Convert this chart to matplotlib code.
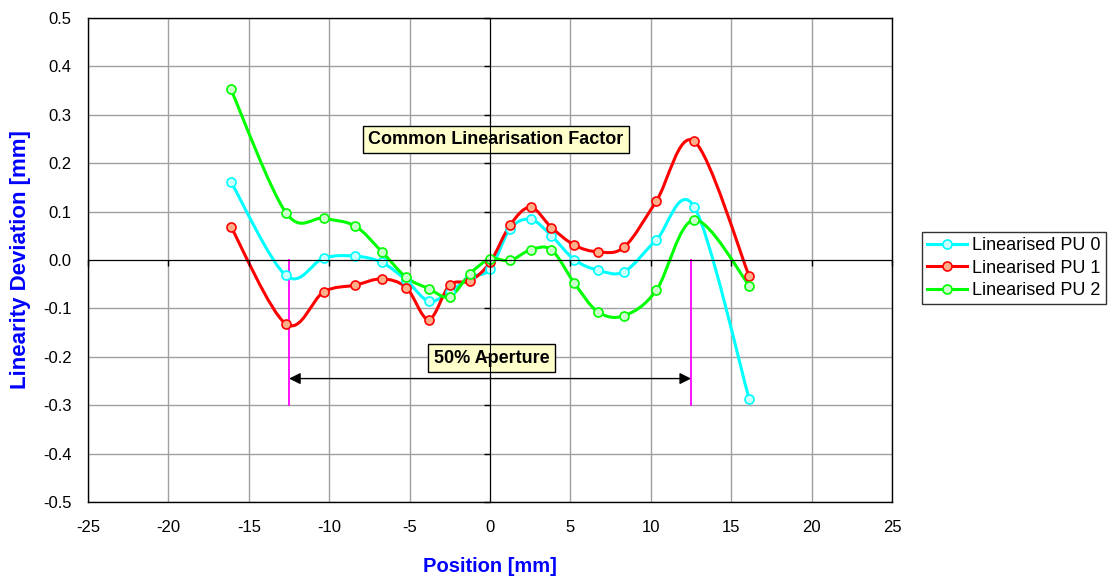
import numpy as np
import matplotlib.pyplot as plt
from matplotlib.path import Path
from matplotlib.patches import PathPatch

plt.rcParams['font.family'] = ['Liberation Sans', 'DejaVu Sans']
plt.rcParams['axes.unicode_minus'] = False

# Measured positions [mm] and linearity deviation [mm] per pick-up
position = [-16.12, -12.7, -10.35, -8.39, -6.73, -5.21, -3.82, -2.52, -1.24, 0.0,
            1.24, 2.52, 3.82, 5.23, 6.70, 8.35, 10.33, 12.71, 16.12]
pu0 = [0.162, -0.032, 0.004, 0.008, -0.005, -0.042, -0.085, -0.066, -0.035, -0.019,
       0.064, 0.084, 0.050, 0.001, -0.021, -0.024, 0.041, 0.109, -0.288]
pu1 = [0.069, -0.132, -0.066, -0.052, -0.039, -0.057, -0.123, -0.052, -0.043, -0.005,
       0.072, 0.109, 0.067, 0.031, 0.017, 0.027, 0.121, 0.245, -0.034]
pu2 = [0.353, 0.098, 0.086, 0.070, 0.017, -0.036, -0.059, -0.076, -0.028, 0.002,
       -0.001, 0.021, 0.021, -0.047, -0.107, -0.115, -0.063, 0.083, -0.053]

series = [
    ('Linearised PU 0', pu0, '#00FFFF', '#CCFFFF'),
    ('Linearised PU 1', pu1, '#FF0000', '#FFB08A'),
    ('Linearised PU 2', pu2, '#00FF00', '#CCFFCC'),
]

aperture = 12.5       # 50% aperture edges at +/- this position
arrow_y = -0.245


def smooth_path(x, y):
    # Excel style smoothed line: cubic bezier segments (Catmull-Rom tangents)
    pts = np.column_stack([x, y])
    ext = np.vstack([pts[0], pts, pts[-1]])
    verts = [pts[0]]
    codes = [Path.MOVETO]
    for i in range(len(pts) - 1):
        p0, p1, p2, p3 = ext[i], ext[i + 1], ext[i + 2], ext[i + 3]
        verts += [p1 + (p2 - p0) / 6, p2 - (p3 - p1) / 6, p2]
        codes += [Path.CURVE4] * 3
    return Path(verts, codes)


fig = plt.figure(figsize=(11.09, 5.81), dpi=100)
ax = fig.add_axes([0.0794, 0.136, 0.725, 0.833])

for label, vals, col, face in series:
    ax.add_patch(PathPatch(smooth_path(position, vals), fill=False,
                           edgecolor=col, lw=2.2, zorder=3))
    ax.plot(position, vals, ls='none', marker='o', ms=6.5, mec=col, mfc=face,
            mew=1.2, zorder=4)
    ax.plot([], [], color=col, lw=2.2, marker='o', ms=6.5, mec=col, mfc=face,
            mew=1.2, label=label)

ax.set_xlim(-25, 25)
ax.set_ylim(-0.5, 0.5)
ax.set_xticks(np.arange(-25, 26, 5))
ax.set_yticks(np.arange(-0.5, 0.51, 0.1))
ax.yaxis.set_major_formatter(plt.FuncFormatter(lambda v, p: f'{round(v, 1) + 0.0:.1f}'))
ax.grid(True, color='#A0A0A0', lw=1)
ax.set_axisbelow(True)
ax.tick_params(length=0, labelsize=12, pad=12)
ax.tick_params(axis='x', pad=13)
for sp in ax.spines.values():
    sp.set_color('black')
    sp.set_linewidth(1)

# axes through zero with small tick marks
zero_ax = fig.add_axes(ax.get_position(), frameon=True, facecolor='none')
zero_ax.set_xlim(ax.get_xlim())
zero_ax.set_ylim(ax.get_ylim())
zero_ax.set_xticks(ax.get_xticks())
zero_ax.set_yticks(ax.get_yticks())
for s in ['top', 'right']:
    zero_ax.spines[s].set_visible(False)
zero_ax.spines['left'].set_position(('data', 0))
zero_ax.spines['bottom'].set_position(('data', 0))
zero_ax.tick_params(direction='out', length=4, width=1, labelleft=False,
                    labelbottom=False)
zero_ax.set_zorder(0.5)

ax.set_xlabel('Position [mm]', fontsize=14.5, fontweight='bold', color='#0000FF')
ax.set_ylabel('Linearity Deviation [mm]', fontsize=16, fontweight='bold',
              color='#0000FF')
ax.xaxis.set_label_coords(0.5, -0.114)
ax.yaxis.set_label_coords(-0.071, 0.5)

# 50% aperture markers
for xa in (-aperture, aperture):
    ax.plot([xa, xa], [0, -0.3], color='#FF00FF', lw=1.3, zorder=2)
ax.annotate('', xy=(aperture, arrow_y), xytext=(-aperture, arrow_y),
            arrowprops=dict(arrowstyle='<|-|>', color='black', lw=1,
                            mutation_scale=17, shrinkA=0, shrinkB=0), zorder=2)

box = dict(boxstyle='square,pad=0.3', facecolor='#FFFFCC', edgecolor='black', lw=1)
ax.text(0.1, -0.203, '50% Aperture', ha='center', va='center', fontsize=13,
        fontweight='bold', bbox=box, zorder=5)
ax.text(0.35, 0.249, 'Common Linearisation Factor', ha='center', va='center',
        fontsize=13, fontweight='bold', bbox=box, zorder=5)

leg = ax.legend(loc='upper left', bbox_to_anchor=(0.831, 0.601),
                bbox_transform=fig.transFigure, fontsize=13, frameon=True,
                fancybox=False, edgecolor='black', handlelength=2.2,
                handletextpad=0.3, borderpad=0.3, labelspacing=0.3,
                borderaxespad=0)
leg.get_frame().set_linewidth(1)

fig.savefig('out.png', dpi=100)
